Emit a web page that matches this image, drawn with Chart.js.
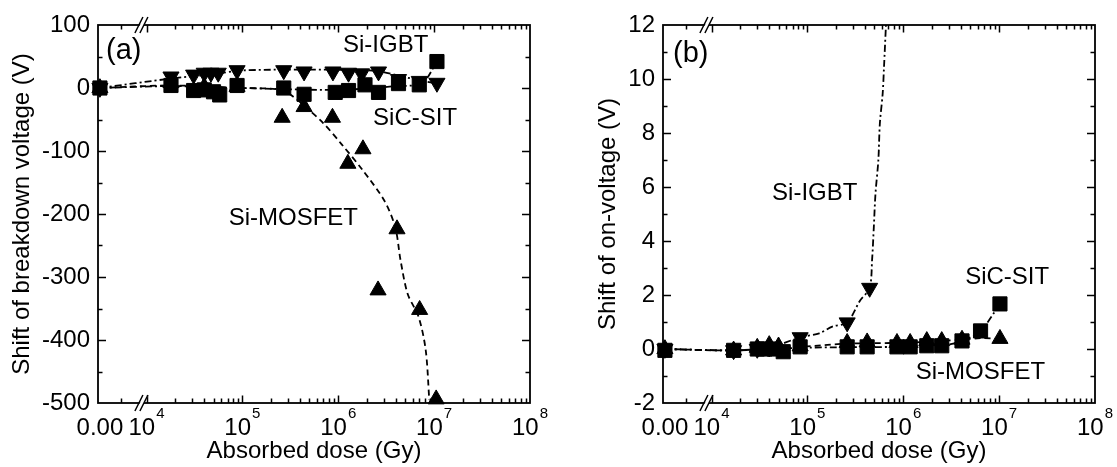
<!DOCTYPE html>
<html>
<head>
<meta charset="utf-8">
<title>Shift of breakdown voltage and on-voltage vs absorbed dose</title>
<script src="https://cdn.jsdelivr.net/npm/chart.js@4.4.1/dist/chart.umd.min.js"></script>
<style>
  html, body { margin: 0; padding: 0; background: #fff; }
  #wrap { position: relative; width: 1117px; height: 467px; }
  canvas { position: absolute; top: 0; }
  #chartA { left: 0; }
  #chartB { left: 560px; }
</style>
</head>
<body>
<div id="wrap">
  <canvas id="chartA" width="560" height="467"></canvas>
  <canvas id="chartB" width="557" height="467"></canvas>
</div>
<script>
// ---------------- data ----------------
// (a) shift of breakdown voltage (V)
const doseA_sic  = [0, 1.8e4, 3.1e4, 4.0e4, 5.0e4, 5.8e4, 8.8e4, 2.7e5, 4.4e5, 9.3e5, 1.28e6, 1.9e6, 2.63e6, 4.25e6, 7.0e6, 1.07e7];
const shiftA_sic = [0, 4, -4, -3, -6, -11, 4, 0, -10, -7, -4, 5, -7, 7, 5, 42];
const doseA_igbt  = [0, 1.8e4, 3.1e4, 4.0e4, 4.7e4, 5.6e4, 8.8e4, 2.7e5, 4.4e5, 8.8e5, 1.28e6, 1.75e6, 2.63e6, 4.25e6, 7.0e6, 1.07e7];
const shiftA_igbt = [0, 18, 21, 24, 24, 24, 28, 28, 26, 26, 24, 23, 26, 14, 11, 8];
const doseA_mos  = [0, 1.8e4, 4.0e4, 8.8e4, 2.6e5, 4.4e5, 8.7e5, 1.26e6, 1.81e6, 2.6e6, 4.1e6, 7.06e6, 1.05e7];
const shiftA_mos = [0, 8, 2, 2, -47, -30, -47, -120, -97, -321, -224, -352, -494];

// guide curves (a)
const curveA_igbt_x = [0, 1.8e4, 5e4, 1e5, 1e6, 2.5e6, 5e6, 1.07e7];
const curveA_igbt_y = [0, 15, 22, 28, 29, 27, 17, 7];
const curveA_sic_x = [0, 1.8e4, 1e5, 1e6, 4e6, 7.5e6, 1.07e7];
const curveA_sic_y = [0, 3, 0, -3, 3, 8, 42];
const curveA_mos_x = [0, 1.8e4, 1e5, 2.6e5, 3.4e5, 4.4e5, 7.0e5, 1.08e6, 1.81e6, 3.03e6, 3.93e6, 4.47e6, 5.3e6, 6.88e6, 8.17e6, 8.9e6];
const curveA_mos_y = [0, 4, 0, -3, -14, -28, -56, -89, -131, -179, -221, -274, -327, -363, -416, -495];

// (b) shift of on-voltage (V)
const doseB_sic  = [0, 1.7e4, 3.0e4, 3.6e4, 4.5e4, 5.6e4, 8.4e4, 2.6e5, 4.2e5, 8.6e5, 1.18e6, 1.76e6, 2.52e6, 4.1e6, 6.4e6, 1.02e7];
const shiftB_sic = [-0.05, -0.05, 0, 0, 0, -0.1, 0.08, 0.08, 0.08, 0.08, 0.08, 0.12, 0.12, 0.3, 0.67, 1.67];
const doseB_igbt  = [0, 1.7e4, 3.0e4, 4.0e4, 8.4e4, 2.6e5, 4.46e5];
const shiftB_igbt = [0, -0.05, 0, 0.05, 0.43, 0.98, 2.26];
const doseB_mos  = [0, 1.7e4, 3.0e4, 4.0e4, 5.0e4, 8.4e4, 2.6e5, 4.2e5, 8.6e5, 1.18e6, 1.76e6, 2.52e6, 4.1e6, 1.02e7];
const shiftB_mos = [0, -0.05, 0.05, 0.15, 0.1, 0.1, 0.23, 0.25, 0.23, 0.23, 0.3, 0.3, 0.35, 0.38];

// guide curves (b)
const curveB_igbt_x = [0, 1.7e4, 4e4, 8.4e4, 1.33e5, 1.82e5, 2.6e5, 3.55e5, 4.46e5, 4.73e5, 4.93e5, 5.13e5, 5.5e5, 5.7e5, 6.1e5, 6.3e5, 6.6e5];
const curveB_igbt_y = [0, -0.05, 0.05, 0.43, 0.58, 0.83, 0.98, 1.8, 2.26, 3.3, 4.5, 5.75, 7.0, 8.35, 9.46, 10.45, 12];
const curveB_sic_x = [0, 1.7e4, 1e5, 1e6, 2.5e6, 4.1e6, 6.4e6, 1.02e7];
const curveB_sic_y = [0, -0.05, 0.05, 0.08, 0.12, 0.3, 0.67, 1.67];
const curveB_mos_x = [0, 1.7e4, 1e5, 2.6e5, 1e6, 2.5e6, 4.1e6, 6.5e6, 1.02e7];
const curveB_mos_y = [0, -0.05, 0.1, 0.2, 0.23, 0.3, 0.35, 0.4, 0.38];

// x tick exponents and text
const tickExps = [4, 5, 6, 7, 8];
const xTitle = 'Absorbed dose (Gy)';
const yTitleA = 'Shift of breakdown voltage (V)';
const yTitleB = 'Shift of on-voltage (V)';
const labelsA = [
  { text: 'Si-IGBT', x: 1.12e6, y: 57.6 },
  { text: 'SiC-SIT', x: 2.31e6, y: -58.7 },
  { text: 'Si-MOSFET', x: 7.2e4, y: -216.8 }
];
const labelsB = [
  { text: 'Si-IGBT', x: 4.28e4, y: 5.52 },
  { text: 'SiC-SIT', x: 4.42e6, y: 2.41 },
  { text: 'Si-MOSFET', x: 1.35e6, y: -1.11 }
];

const FONT = "'Liberation Sans', Arial, sans-serif";

// ---------------- broken axis: 0.00 | 10^4 ... 10^8 (log) ----------------
class BrokenLogScale extends Chart.Scale {
  determineDataLimits() {
    this.min = 0;
    this.max = Math.pow(10, this.options.maxExp);
  }
  buildTicks() {
    const o = this.options;
    const ticks = [{ value: 0 }];
    for (let e = o.minExp; e <= o.maxExp; e++) ticks.push({ value: Math.pow(10, e) });
    return ticks;
  }
  getLabelForValue(v) {
    return v === 0 ? '0.00' : '10^' + Math.round(Math.log10(v));
  }
  _decades(v) {
    const o = this.options;
    return v <= 0 ? o.zeroOffset : o.gap + Math.log10(v) - o.minExp;
  }
  getPixelForValue(v) {
    const o = this.options;
    return this.getPixelForDecimal(this._decades(v) / (o.gap + o.maxExp - o.minExp));
  }
  getValueForPixel(p) {
    const o = this.options;
    const u = this.getDecimalForPixel(p) * (o.gap + o.maxExp - o.minExp);
    return u < o.gap ? 0 : Math.pow(10, u - o.gap + o.minExp);
  }
}
BrokenLogScale.id = 'brokenLog';
BrokenLogScale.defaults = {};
Chart.register(BrokenLogScale);

// ---------------- frame, inward ticks, break marks, labels ----------------
const framePlugin = {
  id: 'frame',
  beforeDatasetsDraw(chart, args, opts) {
    const { ctx, chartArea: a, scales: { x, y } } = chart;
    ctx.save();
    ctx.strokeStyle = '#000';
    ctx.lineWidth = 1.8;
    ctx.strokeRect(a.left, a.top, a.right - a.left, a.bottom - a.top);

    ctx.lineWidth = 1.5;
    ctx.beginPath();
    // y ticks, left and right
    const n = Math.round((y.max - y.min) / opts.yMinor);
    for (let i = 1; i < n; i++) {
      const v = y.min + i * opts.yMinor;
      const py = Math.round(y.getPixelForValue(v)) + 0.5;
      const major = Math.abs(Math.round(v / opts.yMajor) * opts.yMajor - v) < 1e-9;
      const len = major ? 8 : 4.5;
      ctx.moveTo(a.left, py); ctx.lineTo(a.left + len, py);
      ctx.moveTo(a.right, py); ctx.lineTo(a.right - len, py);
    }
    // x ticks, bottom and top
    const mark = (px, len) => {
      px = Math.round(px) + 0.5;
      ctx.moveTo(px, a.bottom); ctx.lineTo(px, a.bottom - len);
      ctx.moveTo(px, a.top); ctx.lineTo(px, a.top + len);
    };
    const p0 = x.getPixelForValue(0), p4 = x.getPixelForValue(Math.pow(10, tickExps[0]));
    mark(p0 + 0.45 * (p4 - p0), 4.5);
    tickExps.forEach((e, k) => {
      if (k < tickExps.length - 1) mark(x.getPixelForValue(Math.pow(10, e)), 7.5);
      if (k < tickExps.length - 1) {
        for (let m = 2; m <= 9; m++) mark(x.getPixelForValue(m * Math.pow(10, e)), 4.5);
      }
    });
    ctx.stroke();

    // axis break "//" at top and bottom
    const bx = p0 + 0.88 * (p4 - p0);
    [a.top, a.bottom].forEach(by => {
      ctx.fillStyle = '#fff';
      ctx.beginPath();
      ctx.moveTo(bx - 5, by + 7); ctx.lineTo(bx + 3, by - 7);
      ctx.lineTo(bx + 7, by - 7); ctx.lineTo(bx - 1, by + 7);
      ctx.closePath();
      ctx.fill();
      ctx.beginPath();
      ctx.lineWidth = 1.5;
      ctx.moveTo(bx - 6, by + 8); ctx.lineTo(bx + 2, by - 8);
      ctx.moveTo(bx - 1, by + 8); ctx.lineTo(bx + 7, by - 8);
      ctx.stroke();
    });
    ctx.restore();
  },
  afterDraw(chart, args, opts) {
    const { ctx, chartArea: a, scales: { x, y } } = chart;
    ctx.save();
    ctx.fillStyle = '#000';
    ctx.textBaseline = 'alphabetic';
    // x tick labels with superscript exponents
    const base = a.bottom + 32, sup = a.bottom + 15;
    ctx.font = '24px ' + FONT;
    ctx.textAlign = 'center';
    ctx.fillText('0.00', x.getPixelForValue(0), base);
    tickExps.forEach(e => {
      const px = x.getPixelForValue(Math.pow(10, e));
      ctx.font = '24px ' + FONT;
      const w1 = ctx.measureText('10').width;
      ctx.font = '15px ' + FONT;
      const w2 = ctx.measureText(String(e)).width;
      const left = px - (w1 + w2 + 1) / 2;
      ctx.textAlign = 'left';
      ctx.font = '24px ' + FONT;
      ctx.fillText('10', left, base);
      ctx.font = '15px ' + FONT;
      ctx.fillText(String(e), left + w1 + 1, sup);
    });
    // panel letter
    ctx.font = '29px ' + FONT;
    ctx.textAlign = 'left';
    ctx.fillText(opts.letter, a.left + opts.letterDx, a.top + opts.letterDy);
    // curve labels
    ctx.font = '24px ' + FONT;
    opts.labels.forEach(l => ctx.fillText(l.text, x.getPixelForValue(l.x), y.getPixelForValue(l.y)));
    ctx.restore();
  }
};

// ---------------- datasets ----------------
function pts(dose, val) {
  return dose.map((d, i) => ({ x: d, y: val[i] }));
}
function markers(label, dose, val, style) {
  return {
    label: label,
    data: pts(dose, val),
    showLine: false,
    pointStyle: style === 'down' ? 'triangle' : style,
    pointRotation: style === 'down' ? 180 : 0,
    pointRadius: style === 'rect' ? 10 : 9.3,
    pointBackgroundColor: '#000',
    pointBorderColor: '#000',
    pointBorderWidth: 1,
    clip: false,
    order: 0
  };
}
function curve(label, dose, val, dash) {
  return {
    label: label,
    data: pts(dose, val),
    pointRadius: 0,
    borderColor: '#000',
    borderWidth: 1.8,
    borderDash: dash,
    tension: 0.3,
    fill: false,
    order: 1
  };
}

function makeChart(id, cfg) {
  return new Chart(document.getElementById(id), {
    type: 'line',
    data: { datasets: cfg.datasets },
    options: {
      responsive: false,
      animation: false,
      events: [],
      layout: { padding: cfg.padding },
      plugins: {
        legend: { display: false },
        tooltip: { enabled: false },
        frame: cfg.frame
      },
      scales: {
        x: {
          type: 'brokenLog',
          position: 'bottom',
          minExp: tickExps[0],
          maxExp: tickExps[tickExps.length - 1],
          gap: 0.506,
          zeroOffset: 0.02,
          grid: { display: false, drawTicks: false },
          border: { display: false },
          ticks: { display: false },
          title: { display: true, text: xTitle, color: '#000', font: { family: FONT, size: 24 }, padding: { top: 0, bottom: 1 } },
          afterFit: s => { s.height = 64; }
        },
        y: {
          type: 'linear',
          min: cfg.yMin,
          max: cfg.yMax,
          grid: { display: false, drawTicks: false },
          border: { display: false },
          ticks: { stepSize: cfg.yStep, color: '#000', font: { family: FONT, size: 24 }, padding: 8 },
          title: { display: true, text: cfg.yTitle, color: '#000', font: { family: FONT, size: 24 }, padding: { top: cfg.titlePad, bottom: 0 } },
          afterFit: s => { s.width = cfg.yWidth; }
        }
      }
    },
    plugins: [framePlugin]
  });
}

makeChart('chartA', {
  datasets: [
    markers('SiC-SIT', doseA_sic, shiftA_sic, 'rect'),
    markers('Si-IGBT', doseA_igbt, shiftA_igbt, 'down'),
    markers('Si-MOSFET', doseA_mos, shiftA_mos, 'triangle'),
    curve('Si-IGBT fit', curveA_igbt_x, curveA_igbt_y, [7, 3, 2, 3]),
    curve('SiC-SIT fit', curveA_sic_x, curveA_sic_y, [7, 3, 2, 3]),
    curve('Si-MOSFET fit', curveA_mos_x, curveA_mos_y, [6, 4])
  ],
  padding: { left: 0, right: 30, top: 25, bottom: 0 },
  yMin: -500, yMax: 100, yStep: 100, yWidth: 98, titlePad: 8,
  yTitle: yTitleA,
  frame: { yMinor: 50, yMajor: 100, letter: '(a)', letterDx: 8, letterDy: 34, labels: labelsA }
});

makeChart('chartB', {
  datasets: [
    markers('SiC-SIT', doseB_sic, shiftB_sic, 'rect'),
    markers('Si-IGBT', doseB_igbt, shiftB_igbt, 'down'),
    markers('Si-MOSFET', doseB_mos, shiftB_mos, 'triangle'),
    curve('Si-IGBT fit', curveB_igbt_x, curveB_igbt_y, [7, 3, 2, 3]),
    curve('SiC-SIT fit', curveB_sic_x, curveB_sic_y, [7, 3, 2, 3]),
    curve('Si-MOSFET fit', curveB_mos_x, curveB_mos_y, [6, 4])
  ],
  padding: { left: 30, right: 22, top: 25, bottom: 0 },
  yMin: -2, yMax: 12, yStep: 2, yWidth: 73, titlePad: 4,
  yTitle: yTitleB,
  frame: { yMinor: 1, yMajor: 2, letter: '(b)', letterDx: 10, letterDy: 37, labels: labelsB }
});
</script>
</body>
</html>
